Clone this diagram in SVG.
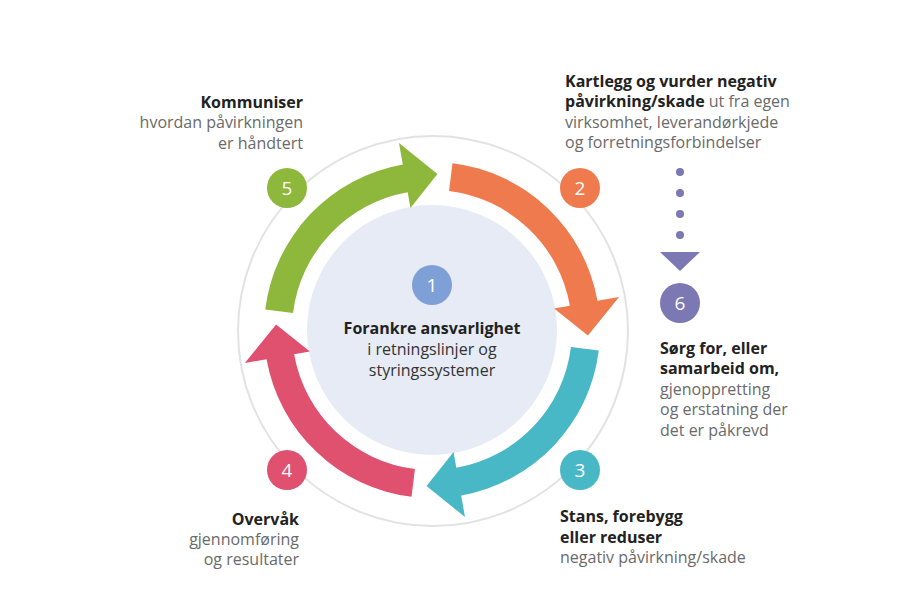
<svg xmlns="http://www.w3.org/2000/svg" width="923" height="616" viewBox="0 0 923 616">
  <defs>
    <style>
      text { font-family: "Open Sans", "Noto Sans", "Liberation Sans", sans-serif; font-size: 16px; }
      .b { font-weight: 700; fill: #222222; }
      .r { font-weight: 400; fill: #6a6a6a; }
      .num { font-size: 19px; fill: #ffffff; text-anchor: middle; font-weight: 400; }
      .end { text-anchor: end; }
      .mid { text-anchor: middle; }
    </style>
    <path id="arrowShape" d="M 452.47 163.25 A 168 168 0 0 1 597.45 300.83 L 619.11 297.01 L 587.90 335.44 L 554.12 308.47 L 569.87 305.69 A 140 140 0 0 0 449.06 191.04 Z"/>
  </defs>
  <rect width="923" height="616" fill="#ffffff"/>

  <g id="ring">
    <circle cx="433" cy="331" r="195" fill="none" stroke="#e2e2e2" stroke-width="2"/>
  </g>

  <g id="node1">
    <circle cx="432" cy="330" r="125" fill="#e6ebf5"/>
    <circle cx="432" cy="285" r="20" fill="#7f9fd7"/>
    <text class="num" x="432" y="292">1</text>
    <text class="b mid" x="432" y="334">Forankre ansvarlighet</text>
    <text class="r mid" x="432" y="355" style="fill:#333333">i retningslinjer og</text>
    <text class="r mid" x="432" y="376" style="fill:#333333">styringssystemer</text>
  </g>

  <g id="connectors">
    <use href="#arrowShape" fill="#ef7a4d"/>
    <use href="#arrowShape" fill="#48b7c6" transform="rotate(90 432 330)"/>
    <use href="#arrowShape" fill="#e0506f" transform="rotate(180 432 330)"/>
    <use href="#arrowShape" fill="#8db83b" transform="rotate(270 432 330)"/>
    <g id="dots" fill="#7b78b3">
      <circle cx="680" cy="172" r="4"/>
      <circle cx="680" cy="193" r="4"/>
      <circle cx="680" cy="214" r="4"/>
      <circle cx="680" cy="235" r="4"/>
      <polygon points="660,252 700,252 680,271"/>
    </g>
  </g>

  <g id="node2">
    <circle cx="580" cy="188" r="20" fill="#ef7a4d"/>
    <text class="num" x="580" y="195">2</text>
    <text class="b" x="565" y="87">Kartlegg og vurder negativ</text>
    <text x="565" y="107"><tspan class="b">påvirkning/skade</tspan><tspan class="r"> ut fra egen</tspan></text>
    <text class="r" x="565" y="128">virksomhet, leverandørkjede</text>
    <text class="r" x="565" y="148">og forretningsforbindelser</text>
  </g>

  <g id="node3">
    <circle cx="580" cy="470" r="20" fill="#48b7c6"/>
    <text class="num" x="580" y="477">3</text>
    <text class="b" x="560" y="522">Stans, forebygg</text>
    <text class="b" x="560" y="543">eller reduser</text>
    <text class="r" x="560" y="563">negativ påvirkning/skade</text>
  </g>

  <g id="node4">
    <circle cx="287" cy="470" r="20" fill="#e0506f"/>
    <text class="num" x="287" y="477">4</text>
    <text class="b end" x="299" y="525">Overvåk</text>
    <text class="r end" x="299" y="545">gjennomføring</text>
    <text class="r end" x="299" y="565">og resultater</text>
  </g>

  <g id="node5">
    <circle cx="287" cy="188" r="20" fill="#8db83b"/>
    <text class="num" x="287" y="195">5</text>
    <text class="b end" x="303" y="108">Kommuniser</text>
    <text class="r end" x="303" y="128">hvordan påvirkningen</text>
    <text class="r end" x="303" y="149">er håndtert</text>
  </g>

  <g id="node6">
    <circle cx="680" cy="303" r="20" fill="#7b78b3"/>
    <text class="num" x="680" y="310">6</text>
    <text class="b" x="660" y="354">Sørg for, eller</text>
    <text class="b" x="660" y="374">samarbeid om,</text>
    <text class="r" x="660" y="395">gjenoppretting</text>
    <text class="r" x="660" y="415">og erstatning der</text>
    <text class="r" x="660" y="436">det er påkrevd</text>
  </g>
</svg>
